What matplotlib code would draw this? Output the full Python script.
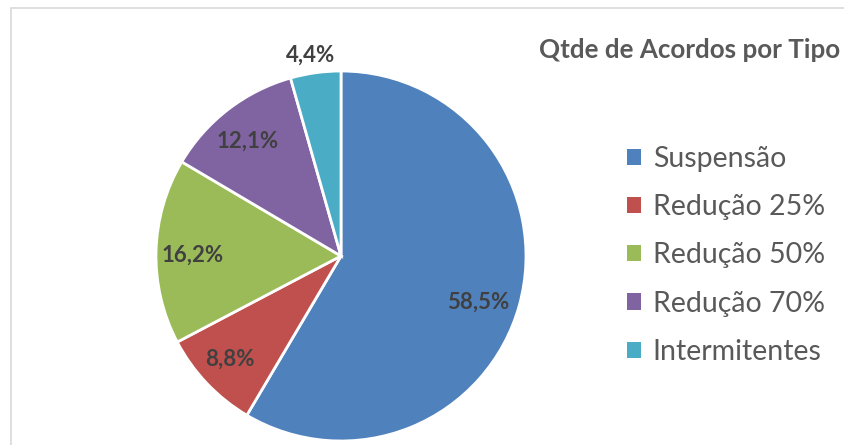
import numpy as np
import matplotlib
matplotlib.use("Agg")
import matplotlib.pyplot as plt
from matplotlib.patches import Rectangle, Patch

plt.rcParams['font.family'] = ['Lato', 'DejaVu Sans']

# data
tipos = ['Suspensão', 'Redução 25%', 'Redução 50%', 'Redução 70%', 'Intermitentes']
pct = [58.5, 8.8, 16.2, 12.1, 4.4]
cores = ['#4F81BD', '#C0504D', '#9BBB59', '#8064A2', '#4BACC6']

# label placement (Excel "best fit"): radius in pie radii, nudge in degrees
label_r = [0.78, 0.82, 0.80, 0.80, 1.10]
label_nudge = [-3.2, -0.7, 1.0, 1.6, 0.8]

W, H = 844, 445
fig = plt.figure(figsize=(W / 100, H / 100), dpi=100)

# chart frame (light grey, runs off right/bottom)
fig.patches.append(Rectangle((10.5 / W, -0.1), 1.2, (H - 8.5) / H + 0.1,
                             transform=fig.transFigure, fill=False,
                             edgecolor='#D9D9D9', lw=1.2))

cx, cy, r = 341, 256, 185
ax = fig.add_axes([(cx - r) / W, (H - cy - r) / H, 2 * r / W, 2 * r / H])
wedges, _ = ax.pie(pct, colors=cores, startangle=90, counterclock=False,
                   radius=1, wedgeprops=dict(edgecolor='white', linewidth=2))
ax.set_xlim(-1, 1)
ax.set_ylim(-1, 1)
ax.set_aspect('equal')
ax.axis('off')

for w, v, lr, nd in zip(wedges, pct, label_r, label_nudge):
    ang = np.deg2rad((w.theta1 + w.theta2) / 2 + nd)
    txt = f'{v:.1f}%'.replace('.', ',')
    ax.text(lr * np.cos(ang), lr * np.sin(ang), txt, ha='center', va='center',
            fontsize=16, fontweight='bold', color='#404040', clip_on=False)

fig.text(840 / W, (H - 58) / H, 'Qtde de Acordos por Tipo', ha='right',
         va='baseline', fontsize=18.7, fontweight='bold', color='#595959')

handles = [Patch(facecolor=c, edgecolor='none') for c in cores]
fig.legend(handles, tipos, loc='upper left', bbox_to_anchor=(627 / W, (H - 146) / H),
           frameon=False, fontsize=20.5, labelcolor='#595959',
           handlelength=0.5, handleheight=0.5, handletextpad=0.4,
           labelspacing=0.78, borderpad=0, borderaxespad=0)

fig.savefig('out.png', dpi=100, facecolor='white')
